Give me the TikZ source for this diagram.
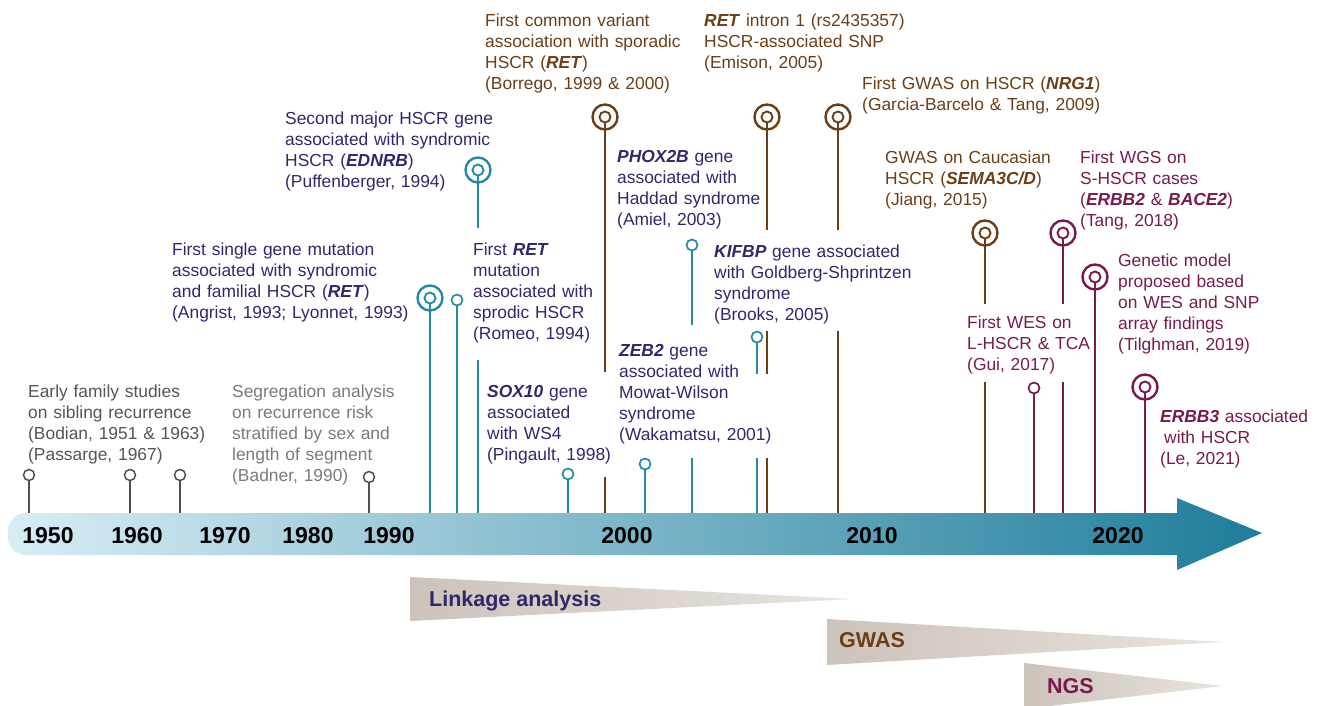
\documentclass[tikz,border=0pt]{standalone}
\usepackage{fontspec}
\setmainfont{Liberation Sans}
\definecolor{hteal}{RGB}{38,137,166}
\definecolor{hbrown}{RGB}{108,62,22}
\definecolor{hmaroon}{RGB}{122,26,76}
\definecolor{hnavy}{RGB}{46,41,108}
\definecolor{hgrayA}{RGB}{85,85,85}
\definecolor{hgrayB}{RGB}{122,122,122}
\definecolor{hstem}{RGB}{80,80,80}
\definecolor{barL}{RGB}{216,237,244}
\definecolor{barR}{RGB}{30,125,155}
\definecolor{wedgeL}{RGB}{204,195,187}
\definecolor{wedgeR}{RGB}{233,228,223}
\newcommand\gene[1]{\textbf{\textit{#1}}}
\tikzset{
  txt/.style={anchor=base west, inner sep=0pt, text width=280pt, align=left,
    font=\fontsize{17.4}{21}\selectfont},
  outer ring/.style={circle, draw=#1, line width=2.4pt, minimum size=25pt, inner sep=0pt},
  inner ring/.style={circle, draw=#1, line width=1.9pt, minimum size=11pt, inner sep=0pt, fill=white},
  pin/.style={circle, draw=#1, line width=1.7pt, minimum size=11pt, inner sep=0pt, fill=white},
  stem/.style={draw=#1, line width=2.2pt},
  year/.style={anchor=base, inner sep=0pt, font=\fontsize{23}{23}\selectfont\bfseries},
  era/.style={anchor=base west, inner sep=0pt, font=\fontsize{21.5}{21.5}\selectfont\bfseries}
}
\begin{document}
\begin{tikzpicture}[x=1pt, y=-1pt]
\useasboundingbox (0,0) rectangle (1318,705);
\coordinate (bartop) at (0,513);

% ---------- method wedges ----------
\shade[left color=wedgeL, right color=wedgeR] (410,577) -- (853,599) -- (410,621) -- cycle;
\shade[left color=wedgeL, right color=wedgeR] (827,619) -- (1223,642) -- (827,665) -- cycle;
\shade[left color=wedgeL, right color=wedgeR] (1024,663) -- (1223,686) -- (1024,709) -- cycle;
\node[era, text=hnavy] (linkage) at (429,606) {Linkage analysis};
\node[era, text=hbrown] (gwas) at (839,647) {GWAS};
\node[era, text=hmaroon] (ngs) at (1047,693) {NGS};

% ---------- markers ----------
% early epidemiology (grey)
\node[pin=hstem, line width=1.5pt] (g51) at (29,475) {};
\node[pin=hstem, line width=1.5pt] (g63) at (130,475) {};
\node[pin=hstem, line width=1.5pt] (g67) at (180,475) {};
\node[pin=hstem, line width=1.5pt] (g90) at (369,477) {};
% single gene discoveries (teal)
\node[outer ring=hteal] (o93) at (430,298) {};
\node[inner ring=hteal] (i93) at (430,298) {};
\node[pin=hteal] (p94) at (457,300) {};
\node[outer ring=hteal] (o94) at (478,170) {};
\node[inner ring=hteal] (i94) at (478,170) {};
\node[pin=hteal] (p98) at (568,474) {};
\node[pin=hteal] (p01) at (645,464) {};
\node[pin=hteal] (p03) at (692,245) {};
\node[pin=hteal] (p05) at (757,337) {};
% association studies (brown)
\node[outer ring=hbrown] (o99) at (605,117) {};
\node[inner ring=hbrown] (i99) at (605,117) {};
\node[outer ring=hbrown] (o05) at (767,117) {};
\node[inner ring=hbrown] (i05) at (767,117) {};
\node[outer ring=hbrown] (o09) at (838,117) {};
\node[inner ring=hbrown] (i09) at (838,117) {};
\node[outer ring=hbrown] (o15) at (985,233) {};
\node[inner ring=hbrown] (i15) at (985,233) {};
% sequencing studies (maroon)
\node[pin=hmaroon] (p17) at (1034,388) {};
\node[outer ring=hmaroon] (o18) at (1063,233) {};
\node[inner ring=hmaroon] (i18) at (1063,233) {};
\node[outer ring=hmaroon] (o19) at (1095,277) {};
\node[inner ring=hmaroon] (i19) at (1095,277) {};
\node[outer ring=hmaroon] (o21) at (1145,387) {};
\node[inner ring=hmaroon] (i21) at (1145,387) {};

% ---------- stems ----------
\foreach \p in {g51,g63,g67,g90}
  \draw[stem=hstem, line width=2pt] (\p.south) -- (\p.south |- bartop);
\foreach \p in {i93,p94,p98,p01}
  \draw[stem=hteal] (\p.south) -- (\p.south |- bartop);
\draw[stem=hteal] (i94.south) -- (478,228) (478,360) -- (i94.south |- bartop);
\draw[stem=hteal] (p03.south) -- (692,325) (692,458) -- (p03.south |- bartop);
\draw[stem=hteal] (p05.south) -- (757,374) (757,458) -- (p05.south |- bartop);
\draw[stem=hbrown] (i99.south) -- (605,372) (605,477) -- (i99.south |- bartop);
\draw[stem=hbrown] (i05.south) -- (767,230) (767,331) -- (767,374) (767,458) -- (i05.south |- bartop);
\draw[stem=hbrown] (i09.south) -- (838,230) (838,331) -- (i09.south |- bartop);
\draw[stem=hbrown] (i15.south) -- (985,304) (985,382) -- (i15.south |- bartop);
\draw[stem=hmaroon] (i18.south) -- (1063,304) (1063,382) -- (i18.south |- bartop);
\foreach \p in {p17,i19,i21}
  \draw[stem=hmaroon] (\p.south) -- (\p.south |- bartop);

% ---------- time axis ----------
\shade[left color=barL, right color=barR]
  (1177,513) -- (1177,498) -- (1262,533) -- (1177,570) -- (1177,555) -- (100,555)
  {[rounded corners=18pt] -- (8,555) -- (8,513) -- (100,513)} -- cycle;
\foreach \yr/\xp in {1950/48,1960/137,1970/225,1980/308,1990/389,2000/627,2010/872,2020/1118}
  \node[year] (y\yr) at (\xp,543) {\yr};

% ---------- event texts ----------
\node[txt, text=hgrayA] (tA) at (28,397) {Early family studies\\on sibling recurrence\\(Bodian, 1951 \& 1963)\\(Passarge, 1967)};
\node[txt, text=hgrayB] (tB) at (232,397) {Segregation analysis\\on recurrence risk\\stratified by sex and\\length of segment\\(Badner, 1990)};

\node[txt, text=hnavy] (t93) at (172,255) {First single gene mutation\\associated with syndromic\\and familial HSCR (\gene{RET})\\(Angrist, 1993; Lyonnet, 1993)};
\node[txt, text=hnavy] (t94b) at (285,124) {Second major HSCR gene\\associated with syndromic\\HSCR (\gene{EDNRB})\\(Puffenberger, 1994)};
\node[txt, text=hnavy] (t94a) at (473,255) {First \gene{RET}\\mutation\\associated with\\sprodic HSCR\\(Romeo, 1994)};
\node[txt, text=hnavy] (t98) at (487,397) {\gene{SOX10} gene\\associated\\with WS4\\(Pingault, 1998)};
\node[txt, text=hnavy] (t03) at (617,162) {\gene{PHOX2B} gene\\associated with\\Haddad syndrome\\(Amiel, 2003)};
\node[txt, text=hnavy] (t05b) at (714,257) {\gene{KIFBP} gene associated\\with Goldberg-Shprintzen\\syndrome\\(Brooks, 2005)};
\node[txt, text=hnavy] (t01) at (619,356) {\gene{ZEB2} gene\\associated with\\Mowat-Wilson\\syndrome\\(Wakamatsu, 2001)};

\node[txt, text=hbrown] (t99) at (485,26) {First common variant\\association with sporadic\\HSCR (\gene{RET})\\(Borrego, 1999 \& 2000)};
\node[txt, text=hbrown] (t05) at (704,26) {\gene{RET} intron 1 (rs2435357)\\HSCR-associated SNP\\(Emison, 2005)};
\node[txt, text=hbrown] (t09) at (862,89) {First GWAS on HSCR (\gene{NRG1})\\(Garcia-Barcelo \& Tang, 2009)};
\node[txt, text=hbrown] (t15) at (885,163) {GWAS on Caucasian\\HSCR (\gene{SEMA3C/D})\\(Jiang, 2015)};

\node[txt, text=hmaroon] (t18) at (1080,163) {First WGS on\\S-HSCR cases\\(\gene{ERBB2} \& \gene{BACE2})\\(Tang, 2018)};
\node[txt, text=hmaroon] (t17) at (967,328) {First WES on\\L-HSCR \& TCA\\(Gui, 2017)};
\node[txt, text=hmaroon] (t19) at (1118,266) {Genetic model\\proposed based\\on WES and SNP\\array findings\\(Tilghman, 2019)};
\node[txt, text=hmaroon] (t21) at (1160,422) {\gene{ERBB3} associated\\\hspace*{4pt}with HSCR\\(Le, 2021)};
\end{tikzpicture}
\end{document}
